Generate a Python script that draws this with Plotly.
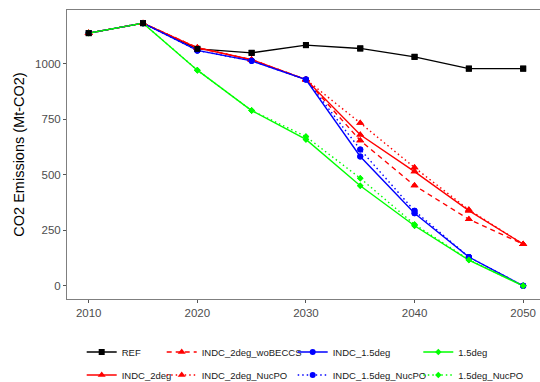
import plotly.graph_objects as go

years = [2010, 2015, 2020, 2025, 2030, 2035, 2040, 2045, 2050]

REF = [1139, 1184, 1068, 1050, 1085, 1070, 1032, 979, 979]
INDC_2deg = [1139, 1184, 1073, 1019, 930, 681, 515, 339, 188]
INDC_2deg_woBECCS = [1139, 1184, 1073, 1019, 930, 655, 452, 300, 188]
INDC_2deg_NucPO = [1139, 1184, 1073, 1019, 930, 734, 533, 343, 188]
INDC_1_5deg = [1139, 1184, 1061, 1014, 930, 583, 327, 130, 0]
INDC_1_5deg_NucPO = [1139, 1184, 1061, 1014, 930, 615, 338, 130, 0]
deg1_5 = [1139, 1184, 972, 790, 660, 451, 271, 116, 0]
deg1_5_NucPO = [1139, 1184, 972, 790, 673, 485, 277, 118, 0]

y_ticks = [0, 250, 500, 750, 1000]
x_ticks = [2010, 2020, 2030, 2040, 2050]

series = [
    ("REF", REF, "#000000", "solid", "square", 6),
    ("INDC_2deg", INDC_2deg, "#FF0000", "solid", "triangle-up", 7),
    ("INDC_2deg_woBECCS", INDC_2deg_woBECCS, "#FF0000", "5px,4px", "triangle-up", 7),
    ("INDC_2deg_NucPO", INDC_2deg_NucPO, "#FF0000", "1.5px,3px", "triangle-up", 7),
    ("INDC_1.5deg", INDC_1_5deg, "#0000FF", "solid", "circle", 6),
    ("INDC_1.5deg_NucPO", INDC_1_5deg_NucPO, "#0000FF", "1.5px,3px", "circle", 6),
    ("1.5deg", deg1_5, "#00FF00", "solid", "diamond", 5),
    ("1.5deg_NucPO", deg1_5_NucPO, "#00FF00", "1.5px,3px", "diamond", 5),
]

# legend placement: (column text start px, row)
legend_pos = {
    "REF": (121.7, 0),
    "INDC_2deg": (121.7, 1),
    "INDC_2deg_woBECCS": (201.7, 0),
    "INDC_2deg_NucPO": (201.7, 1),
    "INDC_1.5deg": (332.7, 0),
    "INDC_1.5deg_NucPO": (332.7, 1),
    "1.5deg": (458.3, 0),
    "1.5deg_NucPO": (458.3, 1),
}

W, H = 540, 382
ml, mr, mt, mb = 67.3, 0, 10, 83
pw = W - ml - mr
ph = H - mt - mb
row_y = [352, 375]

fig = go.Figure()
layout_legends = {}
for i, (name, vals, col, dash, sym, size) in enumerate(series):
    lname = "legend" if i == 0 else f"legend{i+1}"
    fig.add_trace(go.Scatter(
        x=years, y=vals, name=name, mode="lines+markers",
        line=dict(color=col, width=1.4, dash=dash),
        marker=dict(color=col, symbol=sym, size=size, line=dict(width=0)),
        legend=lname, showlegend=True,
    ))
    tx, row = legend_pos[name]
    layout_legends[lname] = dict(
        xref="container", yref="container",
        x=(tx - 40) / W, y=1 - row_y[row] / H, xanchor="left", yanchor="middle",
        bgcolor="rgba(0,0,0,0)", borderwidth=0,
        font=dict(family="Liberation Sans, Arial, sans-serif", size=9.5, color="#1a1a1a"),
    )

# points on top of all lines (ggplot draws points after lines)
for name, vals, col, dash, sym, size in series[1:] + series[:1]:
    fig.add_trace(go.Scatter(
        x=years, y=vals, mode="markers", showlegend=False, hoverinfo="skip",
        marker=dict(color=col, symbol=sym, size=size, line=dict(width=0)),
    ))

fig.add_annotation(
    text="CO2 Emissions (Mt-CO2)", textangle=-90,
    xref="paper", yref="paper", x=(18.5 - ml) / pw, y=0.5,
    xanchor="center", yanchor="middle", showarrow=False,
    font=dict(family="Liberation Sans, Arial, sans-serif", size=14.5, color="#000000"),
)

fig.update_layout(
    width=W, height=H,
    margin=dict(l=ml, r=mr, t=mt, b=mb, pad=0, autoexpand=False),
    paper_bgcolor="white", plot_bgcolor="white",
    font=dict(family="Liberation Sans, Arial, sans-serif"),
    xaxis=dict(
        range=[2008, 2051.55], tickvals=x_ticks, ticktext=[str(v) for v in x_ticks],
        showgrid=False, zeroline=False, showline=True, mirror=True, automargin=False,
        linecolor="#7f7f7f", linewidth=1, ticks="outside", ticklen=3, tickcolor="#555555",
        tickfont=dict(size=11.5, color="#4d4d4d"),
    ),
    yaxis=dict(
        range=[-59.2, 1243.2], tickvals=y_ticks, ticktext=[str(v) for v in y_ticks],
        showgrid=False, zeroline=False, showline=True, mirror=False, automargin=False,
        linecolor="#7f7f7f", linewidth=1, ticks="outside", ticklen=3, tickcolor="#555555",
        tickfont=dict(size=11.5, color="#4d4d4d"),
    ),
    **layout_legends,
)

fig.write_html(
    "out.html",
    config={"displayModeBar": False},
    post_script="document.body.style.margin='0';document.body.style.padding='0';",
)
